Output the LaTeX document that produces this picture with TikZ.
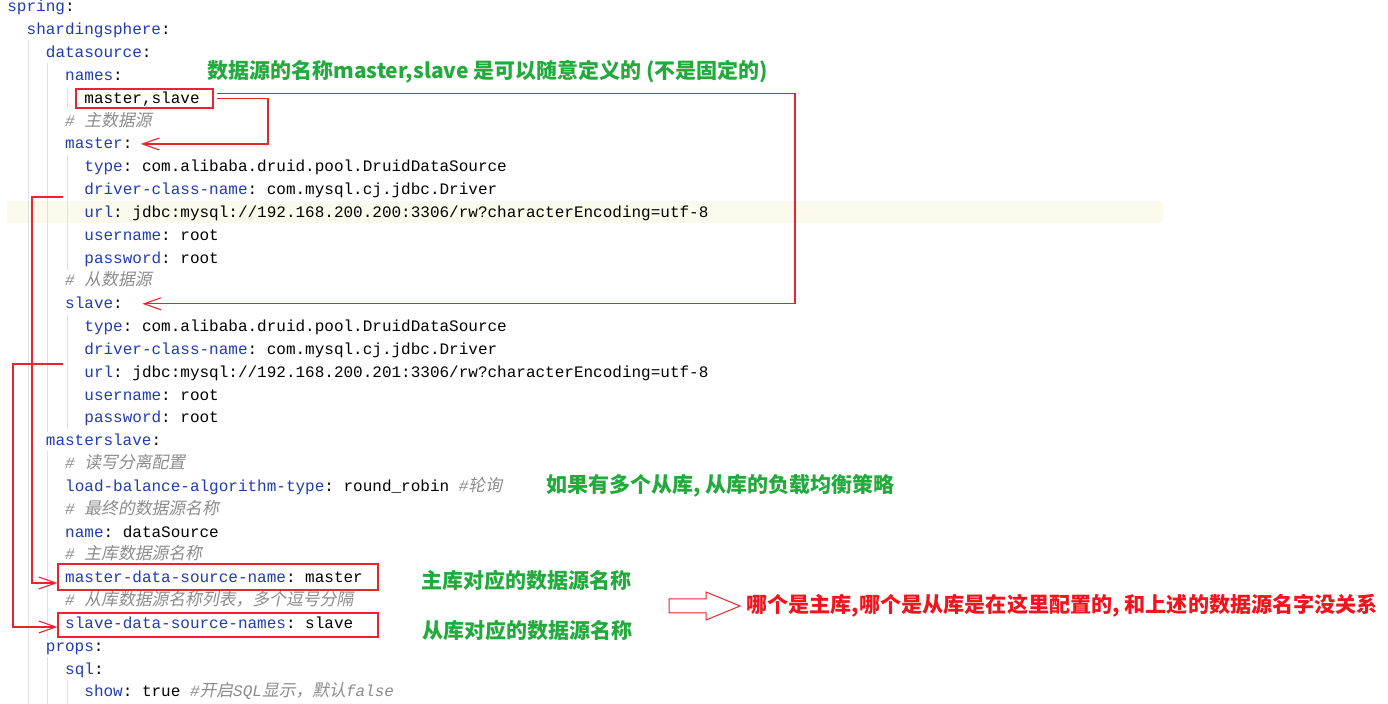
\documentclass[tikz,border=0pt]{standalone}
\usepackage{fontspec}
\setmonofont{Liberation Mono}
\newfontfamily\zhfont{Noto Sans CJK SC}
\newfontfamily\zhslant{Noto Sans CJK SC}[FakeSlant=0.2]
\usetikzlibrary{arrows.meta,positioning}
\definecolor{keyblue}{RGB}{32,60,178}
\definecolor{cmtgray}{RGB}{140,140,140}
\definecolor{notegreen}{RGB}{34,170,60}
\definecolor{notered}{RGB}{240,20,30}
\definecolor{markred}{RGB}{232,36,46}
\definecolor{hlyellow}{RGB}{252,250,236}
\definecolor{guidegray}{RGB}{224,224,224}
\newcommand{\yk}[1]{\textcolor{keyblue}{#1}:}
\newcommand{\yc}[1]{{\color{cmtgray}\itshape #1}}
\newcommand{\zc}[1]{{\fontsize{8.4}{10}\zhslant\upshape #1}}
\begin{document}
\begin{tikzpicture}[x=0.5pt,y=-0.5pt,
    code/.style={anchor=west, inner sep=0pt, text height=5pt, text depth=0pt, font=\ttfamily\fontsize{8}{10}\selectfont},
    guide/.style={draw=guidegray, line width=0.5pt},
    markbox/.style={draw=markred, line width=0.65pt, inner sep=0pt},
    link/.style={draw=markred, line width=0.55pt, -{Straight Barb[length=8.5pt,width=6pt]}},
    greennote/.style={anchor=west, inner sep=0pt, text=notegreen, font=\fontsize{10.5}{12}\zhfont\bfseries},
    rednote/.style={anchor=west, inner sep=0pt, text=notered, font=\fontsize{10.55}{12}\zhfont\bfseries},
    hollow/.style={draw=markred, line width=0.5pt, fill=white}]
\fill[white] (0,0) rectangle (1388,704);
\useasboundingbox (0,0) rectangle (1388,704);
% current line
\fill[hlyellow] (7,201) rectangle (1163,223);
% indent guides
\draw[guide] (28,40) -- (28,704);
\draw[guide] (47,63) -- (47,432);
\draw[guide] (47,451) -- (47,638);
\draw[guide] (47,657) -- (47,704);
\draw[guide] (67,87) -- (67,109);
\draw[guide] (67,155) -- (67,270);
\draw[guide] (67,315) -- (67,429);
\draw[guide] (67,680) -- (67,704);
% yaml
\node[code] (ln0) at (7,7) {\yk{spring}};
\node[code] (ln1) at (26.3,29.83) {\yk{shardingsphere}};
\node[code] (ln2) at (45.5,52.66) {\yk{datasource}};
\node[code] (ln3) at (64.8,75.49) {\yk{names}};
\node[code] (ln4) at (84,98.32) {master,slave};
\node[code] (ln5) at (64.8,121.15) {\yc{\# \zc{主数据源}}};
\node[code] (ln6) at (64.8,143.98) {\yk{master}};
\node[code] (ln7) at (84,166.81) {\yk{type} com.alibaba.druid.pool.DruidDataSource};
\node[code] (ln8) at (84,189.64) {\yk{driver-class-name} com.mysql.cj.jdbc.Driver};
\node[code] (ln9) at (84,212.47) {\yk{url} jdbc:mysql://192.168.200.200:3306/rw?characterEncoding=utf-8};
\node[code] (ln10) at (84,235.3) {\yk{username} root};
\node[code] (ln11) at (84,258.13) {\yk{password} root};
\node[code] (ln12) at (64.8,280.96) {\yc{\# \zc{从数据源}}};
\node[code] (ln13) at (64.8,303.79) {\yk{slave}};
\node[code] (ln14) at (84,326.62) {\yk{type} com.alibaba.druid.pool.DruidDataSource};
\node[code] (ln15) at (84,349.45) {\yk{driver-class-name} com.mysql.cj.jdbc.Driver};
\node[code] (ln16) at (84,372.28) {\yk{url} jdbc:mysql://192.168.200.201:3306/rw?characterEncoding=utf-8};
\node[code] (ln17) at (84,395.11) {\yk{username} root};
\node[code] (ln18) at (84,417.94) {\yk{password} root};
\node[code] (ln19) at (45.5,440.77) {\yk{masterslave}};
\node[code] (ln20) at (64.8,463.6) {\yc{\# \zc{读写分离配置}}};
\node[code] (ln21) at (64.8,486.43) {\yk{load-balance-algorithm-type} round\_robin \yc{\#\zc{轮询}}};
\node[code] (ln22) at (64.8,509.26) {\yc{\# \zc{最终的数据源名称}}};
\node[code] (ln23) at (64.8,532.09) {\yk{name} dataSource};
\node[code] (ln24) at (64.8,554.92) {\yc{\# \zc{主库数据源名称}}};
\node[code] (ln25) at (64.8,577.75) {\yk{master-data-source-name} master};
\node[code] (ln26) at (64.8,600.58) {\yc{\# \zc{从库数据源名称列表，多个逗号分隔}}};
\node[code] (ln27) at (64.8,623.41) {\yk{slave-data-source-names} slave};
\node[code] (ln28) at (45.5,646.24) {\yk{props}};
\node[code] (ln29) at (64.8,669.07) {\yk{sql}};
\node[code] (ln30) at (84,691.9) {\yk{show} true \yc{\#\zc{开启}SQL\zc{显示，默认}false}};
% marked entries
\node[markbox, minimum width=68.5pt, minimum height=9.5pt] (namesbox) at (144.5,98.5) {};
\node[markbox, minimum width=160pt, minimum height=13pt] (mdbox) at (218,577) {};
\node[markbox, minimum width=160pt, minimum height=12pt] (sdbox) at (218,625) {};
% links
\coordinate (mbend) at (268,0);
\coordinate (sbend) at (795,0);
\draw[link] ([xshift=1.5pt]namesbox.east) -| (mbend |- ln6.east) -- ([xshift=4pt]ln6.east);
\draw[link] ([xshift=1.5pt,yshift=2.5pt]namesbox.east) -| (sbend |- ln13.east) -- ([xshift=9.6pt]ln13.east);
\coordinate (mfrom) at (63,197);
\coordinate (mleft) at (32,0);
\draw[link] (mfrom) -- (mleft |- mfrom) |- ([yshift=-3pt]mdbox.west);
\coordinate (sfrom) at (63,364);
\coordinate (sleft) at (13,0);
\draw[link] (sfrom) -- (sleft |- sfrom) |- ([yshift=-1pt]sdbox.west);
% notes
\node[greennote] (namesnote) at (207,72) {数据源的名称master,slave 是可以随意定义的 (不是固定的)};
\node[greennote] (lbnote) at (546,486) {如果有多个从库, 从库的负载均衡策略};
\node[greennote, right=21pt of mdbox, yshift=-1.5pt] (mdnote) {主库对应的数据源名称};
\node[greennote, right=21.5pt of sdbox, yshift=-2.5pt] (sdnote) {从库对应的数据源名称};
\draw[hollow] (669,599) -- (706,599) -- (706,592) -- (740,606) -- (706,620) -- (706,613) -- (669,613) -- cycle;
\coordinate (bigtip) at (740,606);
\node[rednote, right=3pt of bigtip] (whynote) {哪个是主库,哪个是从库是在这里配置的, 和上述的数据源名字没关系};
\end{tikzpicture}
\end{document}
